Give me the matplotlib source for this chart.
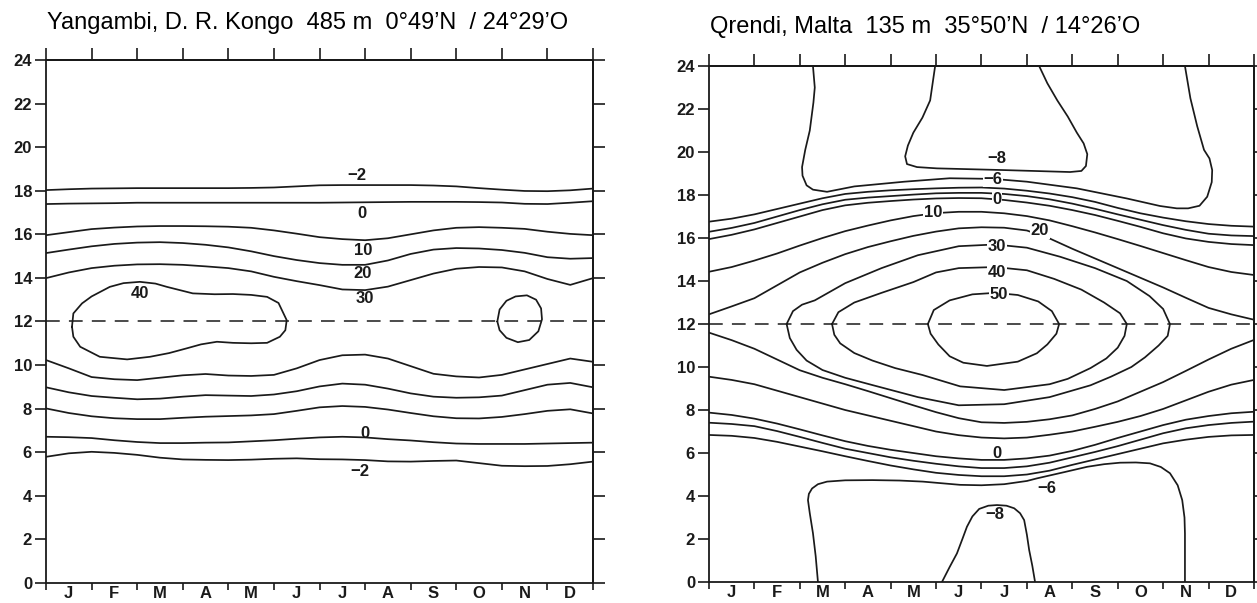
import numpy as np
import matplotlib
matplotlib.use("Agg")
import matplotlib.pyplot as plt

# half-month steps across the year (0 = 1 Jan, 12 = 31 Dec)
months = np.arange(0, 12.5, 0.5)
month_letters = ["J", "F", "M", "A", "M", "J", "J", "A", "S", "O", "N", "D"]
hour_ticks = np.arange(0, 25, 2)

# ---------------- Yangambi: hour at which each isoline is crossed ----------------
yan_pm_m2 = [18.03, 18.07, 18.1, 18.11, 18.12, 18.12, 18.12, 18.12, 18.12, 18.13, 18.15, 18.2, 18.25,
             18.26, 18.26, 18.26, 18.26, 18.24, 18.2, 18.12, 18.05, 17.99, 17.98, 18.02, 18.1]
yan_pm_0 = [17.39, 17.41, 17.42, 17.43, 17.45, 17.45, 17.45, 17.45, 17.45, 17.45, 17.45, 17.45, 17.45,
            17.46, 17.47, 17.48, 17.49, 17.49, 17.49, 17.48, 17.46, 17.4, 17.39, 17.45, 17.52]
yan_pm_10 = [15.96, 16.1, 16.24, 16.31, 16.36, 16.38, 16.38, 16.37, 16.35, 16.3, 16.18, 16.03, 15.87,
             15.78, 15.73, 15.82, 16.0, 16.18, 16.3, 16.33, 16.3, 16.25, 16.12, 16.02, 15.96]
yan_pm_20 = [15.14, 15.3, 15.45, 15.56, 15.62, 15.64, 15.6, 15.52, 15.4, 15.22, 15.0, 14.82, 14.68,
             14.6, 14.6, 14.8, 15.1, 15.3, 15.37, 15.35, 15.28, 15.15, 14.95, 14.88, 14.91]
yan_pm_30 = [13.99, 14.25, 14.45, 14.56, 14.62, 14.63, 14.6, 14.53, 14.45, 14.3, 14.05, 13.85, 13.67,
             13.47, 13.44, 13.6, 13.9, 14.2, 14.42, 14.5, 14.48, 14.3, 13.95, 13.68, 13.99]
yan_am_30 = [10.23, 9.85, 9.45, 9.35, 9.31, 9.42, 9.53, 9.59, 9.52, 9.5, 9.55, 9.85, 10.23,
             10.45, 10.48, 10.3, 9.95, 9.6, 9.48, 9.43, 9.55, 9.8, 10.05, 10.3, 10.15]
yan_am_20 = [8.98, 8.75, 8.58, 8.5, 8.43, 8.46, 8.55, 8.62, 8.6, 8.58, 8.65, 8.8, 9.02,
             9.15, 9.1, 8.92, 8.7, 8.55, 8.5, 8.52, 8.6, 8.85, 9.1, 9.18, 8.98]
yan_am_10 = [8.01, 7.8, 7.65, 7.56, 7.52, 7.52, 7.58, 7.63, 7.66, 7.69, 7.75, 7.9, 8.06,
             8.12, 8.08, 7.96, 7.8, 7.65, 7.56, 7.55, 7.62, 7.75, 7.9, 7.97, 7.78]
yan_am_0 = [6.71, 6.69, 6.65, 6.55, 6.47, 6.42, 6.42, 6.44, 6.45, 6.5, 6.55, 6.62, 6.68,
            6.71, 6.68, 6.6, 6.54, 6.46, 6.4, 6.38, 6.38, 6.38, 6.4, 6.42, 6.44]
yan_am_m2 = [5.79, 5.95, 6.02, 5.97, 5.88, 5.75, 5.67, 5.65, 5.64, 5.66, 5.7, 5.72, 5.68,
             5.67, 5.64, 5.58, 5.57, 5.6, 5.62, 5.5, 5.38, 5.36, 5.37, 5.45, 5.57]

# closed 40 isolines (month, hour)
yan_40a_month = [0.57, 0.6, 0.79, 1.0, 1.4, 1.7, 2.06, 2.4, 2.65, 3.22, 3.7, 4.1, 4.5, 4.85, 5.1, 5.28,
                 5.25, 5.13, 4.85, 4.5, 4.1, 3.75, 3.4, 3.09, 2.7, 2.28, 1.78, 1.18, 0.75, 0.6, 0.57]
yan_40a_hour = [11.76, 12.37, 12.83, 13.15, 13.59, 13.76, 13.82, 13.74, 13.59, 13.29, 13.25, 13.26, 13.22,
                13.13, 12.85, 12.06, 11.6, 11.3, 11.02, 11.0, 11.02, 11.07, 10.95, 10.77, 10.55, 10.38,
                10.26, 10.38, 10.84, 11.3, 11.76]
yan_40b_month = [9.9, 9.95, 10.1, 10.3, 10.55, 10.75, 10.86, 10.88, 10.8, 10.6, 10.35, 10.1, 9.95, 9.9]
yan_40b_hour = [12.0, 12.55, 12.95, 13.15, 13.2, 13.0, 12.6, 12.1, 11.55, 11.15, 11.05, 11.25, 11.6, 12.0]

# ---------------- Qrendi ----------------
qre_pm_m4 = [16.76, 16.9, 17.1, 17.35, 17.6, 17.85, 18.05, 18.15, 18.22, 18.27, 18.31, 18.34, 18.35,
             18.3, 18.2, 18.07, 17.9, 17.68, 17.4, 17.15, 16.95, 16.78, 16.65, 16.57, 16.53]
qre_pm_m2 = [16.29, 16.47, 16.7, 17.0, 17.3, 17.57, 17.78, 17.88, 17.95, 18.02, 18.08, 18.1, 18.1,
             18.05, 17.95, 17.8, 17.6, 17.36, 17.1, 16.85, 16.6, 16.38, 16.2, 16.12, 16.09]
qre_pm_0 = [15.95, 16.15, 16.4, 16.7, 17.0, 17.3, 17.52, 17.64, 17.72, 17.79, 17.84, 17.86, 17.85,
            17.77, 17.65, 17.5, 17.3, 17.07, 16.8, 16.52, 16.22, 15.98, 15.82, 15.72, 15.67]
qre_pm_10 = [14.43, 14.65, 14.95, 15.28, 15.65, 16.0, 16.32, 16.58, 16.82, 17.02, 17.16, 17.22, 17.22,
             17.15, 17.02, 16.82, 16.55, 16.26, 15.95, 15.63, 15.3, 14.97, 14.65, 14.42, 14.28]
qre_pm_20 = [12.45, 12.82, 13.2, 13.8, 14.4, 14.85, 15.25, 15.58, 15.85, 16.1, 16.3, 16.45, 16.5,
             16.48, 16.35, 15.98, 15.5, 15.05, 14.6, 14.15, 13.7, 13.22, 12.75, 12.45, 12.2]
qre_am_20 = [11.6, 11.25, 10.85, 10.35, 9.85, 9.5, 9.2, 8.88, 8.55, 8.22, 7.9, 7.62, 7.43,
             7.4, 7.45, 7.57, 7.75, 8.05, 8.4, 8.85, 9.3, 9.82, 10.35, 10.85, 11.26]
qre_am_10 = [9.55, 9.4, 9.2, 8.9, 8.6, 8.3, 8.0, 7.75, 7.5, 7.25, 7.0, 6.83, 6.72,
             6.68, 6.72, 6.85, 7.0, 7.22, 7.45, 7.72, 8.05, 8.45, 8.85, 9.18, 9.4]
qre_am_0 = [7.88, 7.77, 7.6, 7.37, 7.1, 6.82, 6.55, 6.33, 6.15, 6.0, 5.85, 5.75, 5.68,
            5.68, 5.75, 5.88, 6.1, 6.38, 6.7, 7.0, 7.3, 7.55, 7.72, 7.85, 7.92]
qre_am_m2 = [7.41, 7.35, 7.25, 7.02, 6.75, 6.47, 6.2, 6.0, 5.8, 5.64, 5.5, 5.38, 5.3,
             5.3, 5.38, 5.55, 5.8, 6.05, 6.32, 6.62, 6.92, 7.15, 7.3, 7.4, 7.46]
qre_am_m4 = [6.84, 6.8, 6.7, 6.52, 6.3, 6.08, 5.85, 5.63, 5.42, 5.24, 5.08, 4.98, 4.92,
             4.92, 5.0, 5.18, 5.45, 5.7, 5.95, 6.2, 6.45, 6.62, 6.75, 6.82, 6.84]

# isolines that close inside the year or run into the top/bottom edge (month, hour)
qre_30_month = [1.71, 1.85, 2.05, 2.33, 3.0, 3.8, 4.6, 5.5, 6.3, 7.0, 7.73, 8.5, 9.2, 9.7, 10.0, 10.15,
                10.1, 9.9, 9.6, 9.3, 8.85, 8.4, 7.5, 6.5, 5.5, 4.6, 3.6, 3.0, 2.5, 2.15, 1.93, 1.78, 1.71]
qre_30_hour = [12.0, 12.6, 12.9, 13.1, 13.9, 14.6, 15.2, 15.62, 15.7, 15.55, 15.13, 14.6, 14.0, 13.3, 12.7,
               12.0, 11.45, 11.0, 10.45, 10.0, 9.55, 9.15, 8.6, 8.27, 8.22, 8.6, 9.16, 9.5, 9.86, 10.3,
               10.8, 11.35, 12.0]
qre_40_month = [2.71, 2.85, 3.2, 3.8, 4.5, 5.0, 5.5, 6.3, 7.0, 7.6, 8.2, 8.7, 9.05, 9.2, 9.15, 9.0,
                8.75, 8.4, 7.9, 7.5, 6.5, 5.53, 4.7, 4.1, 3.6, 3.2, 2.89, 2.76, 2.71]
qre_40_hour = [12.0, 12.55, 13.0, 13.45, 13.95, 14.4, 14.6, 14.65, 14.5, 14.1, 13.6, 13.0, 12.5, 12.0,
               11.45, 10.9, 10.4, 9.95, 9.45, 9.2, 8.93, 9.1, 9.63, 9.95, 10.3, 10.65, 11.1, 11.5, 12.0]
qre_50_month = [4.82, 4.95, 5.3, 5.8, 6.3, 6.8, 7.25, 7.55, 7.71, 7.65, 7.45, 7.22, 6.8, 6.12, 5.6,
                5.3, 5.05, 4.88, 4.82]
qre_50_hour = [12.0, 12.65, 13.1, 13.38, 13.45, 13.35, 13.05, 12.6, 12.0, 11.55, 11.05, 10.64, 10.25,
               10.05, 10.2, 10.5, 11.05, 11.55, 12.0]
qre_m6_night_month = [2.29, 2.33, 2.3, 2.22, 2.12, 2.05, 2.06, 2.15, 2.29, 2.6, 3.2, 4.3, 5.3, 6.26,
                      7.0, 8.1, 9.2, 9.93, 10.3, 10.55, 10.8, 10.97, 11.07, 11.08, 11.02, 10.9,
                      10.75, 10.6, 10.48]
qre_m6_night_hour = [24.0, 23.0, 22.3, 21.0, 20.1, 19.3, 18.9, 18.45, 18.25, 18.15, 18.4, 18.62, 18.78,
                     18.75, 18.62, 18.31, 17.84, 17.49, 17.38, 17.38, 17.5, 17.92, 18.6, 19.16, 19.7,
                     20.1, 21.2, 22.5, 24.0]
qre_m8_night_month = [4.98, 4.87, 4.7, 4.5, 4.38, 4.32, 4.36, 4.58, 5.02, 6.5, 7.95, 8.2, 8.3, 8.33,
                      8.25, 8.1, 7.9, 7.67, 7.45, 7.27]
qre_m8_night_hour = [24.0, 22.4, 21.6, 20.9, 20.3, 19.8, 19.44, 19.3, 19.24, 19.16, 19.07, 19.12, 19.35,
                     19.9, 20.4, 20.9, 21.65, 22.4, 23.2, 24.0]
qre_m6_morning_month = [2.4, 2.35, 2.29, 2.22, 2.18, 2.2, 2.27, 2.4, 2.6, 3.0, 3.6, 4.2, 4.71, 5.2,
                        5.53, 6.0, 6.5, 7.0, 7.22, 7.8, 8.33, 8.7, 9.05, 9.4, 9.71, 9.95, 10.15,
                        10.32, 10.42, 10.47, 10.48, 10.48]
qre_m6_morning_hour = [0.0, 1.2, 2.27, 3.2, 3.81, 4.1, 4.35, 4.55, 4.67, 4.73, 4.74, 4.72, 4.67, 4.58,
                       4.52, 4.5, 4.55, 4.7, 4.82, 5.1, 5.36, 5.48, 5.55, 5.56, 5.52, 5.35, 5.06,
                       4.5, 3.81, 3.0, 2.26, 0.0]
qre_m8_morning_month = [5.13, 5.3, 5.46, 5.58, 5.68, 5.8, 5.95, 6.15, 6.34, 6.55, 6.72, 6.85, 6.94,
                        7.0, 7.05, 7.12, 7.18]
qre_m8_morning_hour = [0.0, 0.7, 1.33, 2.0, 2.57, 3.05, 3.4, 3.55, 3.58, 3.55, 3.43, 3.2, 2.88, 2.2,
                       1.49, 0.75, 0.0]

LINE = "#1a1a1a"
LABEL_FONT = dict(family="Liberation Sans", fontweight="bold", fontsize=12, color=LINE)


def isoline(ax, x, y):
    ax.plot(x, y, color=LINE, lw=1.25, solid_joinstyle="round", solid_capstyle="round")


def level_label(ax, x, y, text, inline=False):
    box = dict(facecolor="white", edgecolor="none", pad=0.5) if inline else None
    ax.text(x, y, text, ha="center", va="center", bbox=box, zorder=3, **LABEL_FONT)


def frame(ax):
    ax.set_xlim(0, 12)
    ax.set_ylim(0, 24)
    for side in ax.spines.values():
        side.set_linewidth(1.3)
        side.set_color(LINE)
    ax.axhline(12, color=LINE, lw=1.1, dashes=(9, 6))

    # hours on the left, bare ticks on the right
    ax.set_yticks(hour_ticks)
    ax.set_yticklabels([str(h) for h in hour_ticks], **LABEL_FONT)
    ax.tick_params(axis="y", direction="out", length=8, width=1.2, pad=2, colors=LINE)
    right = ax.secondary_yaxis("right")
    right.set_yticks(hour_ticks)
    right.set_yticklabels([])
    right.tick_params(direction="out", length=8.5, width=1.2, colors=LINE)
    right.spines["right"].set_linewidth(1.3)

    # month boundaries as ticks, month letters between them
    ax.set_xticks(np.arange(0, 13))
    ax.set_xticklabels([])
    ax.set_xticks(np.arange(0.5, 12), minor=True)
    ax.set_xticklabels(month_letters, minor=True, **LABEL_FONT)
    ax.tick_params(axis="x", which="major", direction="out", length=5, width=1.2, colors=LINE)
    ax.tick_params(axis="x", which="minor", length=0, pad=2)
    top = ax.secondary_xaxis("top")
    top.set_xticks(np.arange(0, 13))
    top.set_xticklabels([])
    top.tick_params(direction="out", length=8.5, width=1.2, colors=LINE)
    top.spines["top"].set_linewidth(1.3)


fig = plt.figure(figsize=(12.57, 6.03), dpi=100)
ax1 = fig.add_axes([0.0366, 0.0332, 0.4352, 0.8673])
ax2 = fig.add_axes([0.5640, 0.0348, 0.4336, 0.8557])

# --- Yangambi ---
frame(ax1)
for line in [yan_pm_m2, yan_pm_0, yan_pm_10, yan_pm_20, yan_pm_30,
             yan_am_30, yan_am_20, yan_am_10, yan_am_0, yan_am_m2]:
    isoline(ax1, months, line)
isoline(ax1, yan_40a_month, yan_40a_hour)
isoline(ax1, yan_40b_month, yan_40b_hour)
level_label(ax1, 6.82, 18.72, "\u22122")
level_label(ax1, 6.92, 16.96, "0")
level_label(ax1, 6.95, 15.28, "10")
level_label(ax1, 6.95, 14.22, "20")
level_label(ax1, 7.0, 13.07, "30")
level_label(ax1, 2.06, 13.29, "40")
level_label(ax1, 7.0, 6.87, "0")
level_label(ax1, 6.89, 5.11, "\u22122")

# --- Qrendi ---
frame(ax2)
for line in [qre_pm_m4, qre_pm_m2, qre_pm_0, qre_pm_10, qre_pm_20,
             qre_am_20, qre_am_10, qre_am_0, qre_am_m2, qre_am_m4]:
    isoline(ax2, months, line)
for mx, hy in [(qre_30_month, qre_30_hour), (qre_40_month, qre_40_hour), (qre_50_month, qre_50_hour),
               (qre_m6_night_month, qre_m6_night_hour), (qre_m8_night_month, qre_m8_night_hour),
               (qre_m6_morning_month, qre_m6_morning_hour), (qre_m8_morning_month, qre_m8_morning_hour)]:
    isoline(ax2, mx, hy)
level_label(ax2, 6.34, 19.72, "\u22128")
level_label(ax2, 6.26, 18.74, "\u22126", inline=True)
level_label(ax2, 6.34, 17.8, "0", inline=True)
level_label(ax2, 4.93, 17.18, "10", inline=True)
level_label(ax2, 7.29, 16.33, "20", inline=True)
level_label(ax2, 6.34, 15.62, "30", inline=True)
level_label(ax2, 6.34, 14.4, "40", inline=True)
level_label(ax2, 6.38, 13.38, "50", inline=True)
level_label(ax2, 6.34, 6.0, "0")
level_label(ax2, 7.44, 4.37, "\u22126")
level_label(ax2, 6.3, 3.12, "\u22128")

title_font = dict(family="Liberation Sans", fontsize=17, color="black", va="center", ha="left")
fig.text(47 / 1257, 1 - 23 / 603, "Yangambi, D. R. Kongo  485 m  0°49’N  / 24°29’O", **title_font)
fig.text(710 / 1257, 1 - 27 / 603, "Qrendi, Malta  135 m  35°50’N  / 14°26’O", **title_font)

fig.savefig("out.png", dpi=100, facecolor="white")
